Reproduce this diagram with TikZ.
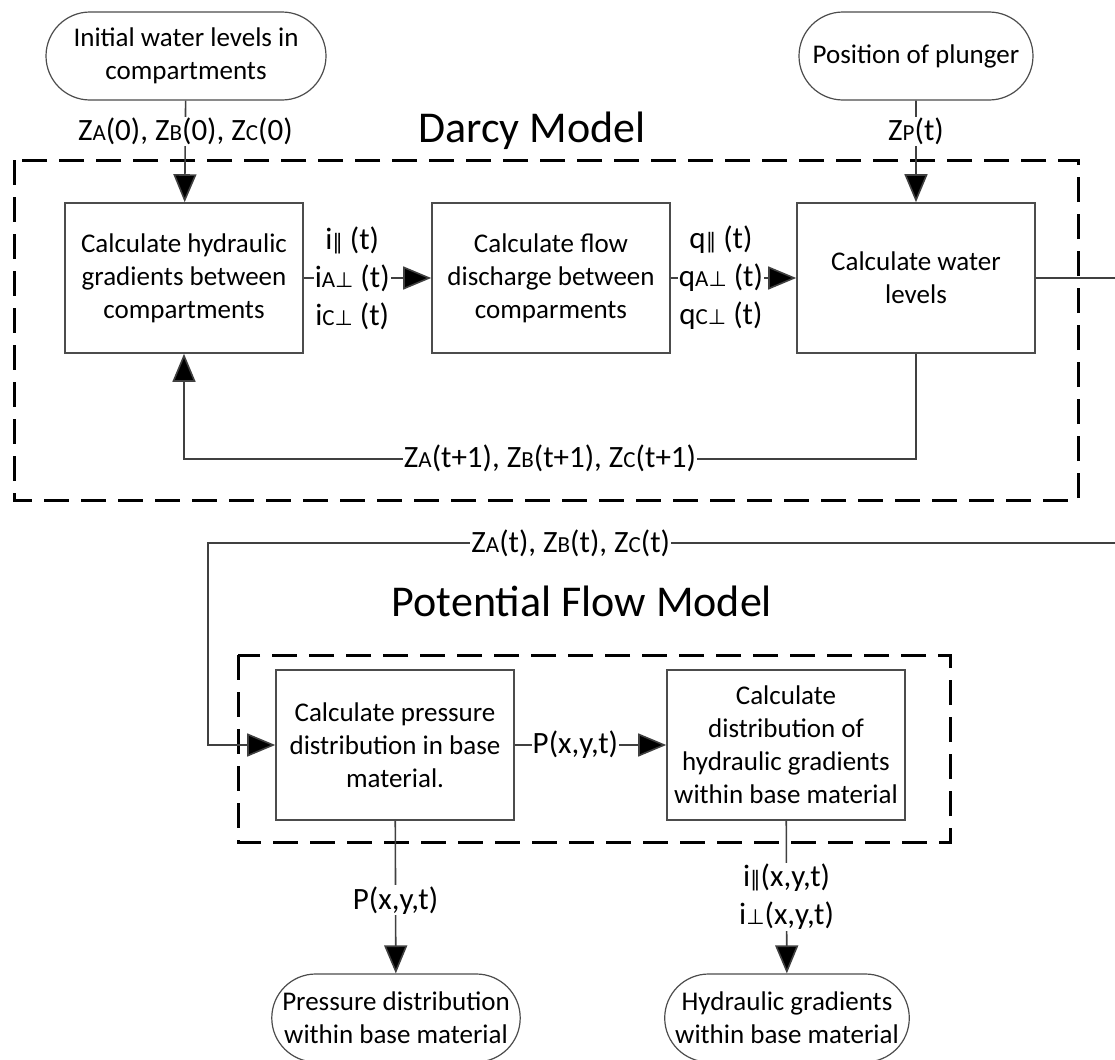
\documentclass[tikz,border=0pt]{standalone}
\usepackage{fontspec}
\setmainfont{Carlito}
\newfontfamily\symf{DejaVu Sans}
\usepackage{tikz}
\usetikzlibrary{
    arrows.meta,
    shapes.misc,
    positioning
}
\newcommand{\lo}[1]{{\fontsize{11.5}{11.5}\selectfont #1}}
\newcommand{\pl}{{\symf\fontsize{10.5}{10.5}\selectfont ∥}}
\newcommand{\pp}{{\symf\fontsize{10.5}{10.5}\selectfont ⊥}}

\begin{document}
\begin{tikzpicture}[x=0.5pt, y=-0.5pt,
    font=\fontsize{13.5}{16.5}\selectfont,
    box/.style={draw=black!70, line width=0.8pt, align=center, minimum width=119pt, minimum height=75pt, inner sep=2pt},
    term/.style={draw=black!70, line width=0.6pt, rounded rectangle, align=center, minimum height=44pt, inner sep=1pt},
    frame/.style={draw=black, line width=1.5pt, dash pattern=on 12.5pt off 6pt},
    conn/.style={draw=black!75, line width=0.8pt, -{Triangle[length=14pt, width=11.5pt, fill=black]}},
    line/.style={draw=black!75, line width=0.8pt},
    lbl/.style={fill=white, inner sep=0.5pt, align=center, font=\fontsize{15.5}{19}\selectfont},
    title/.style={font=\fontsize{22}{24}\selectfont}
]
\useasboundingbox (0,0) rectangle (1115,1060);

% Darcy model
\draw[frame] (14,160) rectangle (1078,500);
\node[title] (darcyT) at (532,131) {Darcy Model};

\node[term, minimum width=142pt] (init) at (186,56) {Initial water levels in\\compartments};
\node[term, minimum width=119pt] (plunger) at (916,56) {Position of plunger};

\node[box] (grad) at (184,278) {Calculate hydraulic\\gradients between\\compartments};
\node[box] (flow) at (551,278) {Calculate flow\\discharge between\\comparments};
\node[box] (level) at (916,278) {Calculate water\\levels};

\coordinate (out) at (1115,278);

\draw[conn] (init) -- node[lbl, pos=0.3] {Z\lo{A}(0), Z\lo{B}(0), Z\lo{C}(0)} (grad);
\draw[conn] (plunger) -- node[lbl, pos=0.3] {Z\lo{P}(t)} (level);
\draw[conn] (grad) -- node[lbl, pos=0.38] {i\pl\ (t)\\i\lo{A}\pp\ (t)\\i\lo{C}\pp\ (t)} (flow);
\draw[conn] (flow) -- node[lbl, pos=0.4] {q\pl\ (t)\\q\lo{A}\pp\ (t)\\q\lo{C}\pp\ (t)} (level);
\draw[line] (level) -- (out);
\draw[conn] (level.south) -- ++(0,105) -| node[lbl, pos=0.25] {Z\lo{A}(t+1), Z\lo{B}(t+1), Z\lo{C}(t+1)} (grad.south);

% potential flow model
\draw[frame] (238,655) rectangle (950,842);
\node[title] (potT) at (582,601) {Potential Flow Model};

\node[box] (press) at (395,745) {Calculate pressure\\distribution in base\\material.};
\node[box] (hgrad) at (786,745) {Calculate\\distribution of\\hydraulic gradients\\within base material};

\node[term, minimum width=119pt] (pout) at (396,1018) {Pressure distribution\\within base material};
\node[term, minimum width=119pt] (hout) at (787,1018) {Hydraulic gradients\\within base material};

\coordinate (in) at (1115,543);
\coordinate (bend) at (208,543);

\draw[conn] (in) -- node[lbl, pos=0.6] {Z\lo{A}(t), Z\lo{B}(t), Z\lo{C}(t)} (bend) |- (press);
\draw[conn] (press) -- node[lbl, pos=0.4] {P(x,y,t)} (hgrad);
\draw[conn] (press) -- node[lbl, pos=0.52] {P(x,y,t)} (pout);
\draw[conn] (hgrad) -- node[lbl, pos=0.5] {i\pl(x,y,t)\\i\pp(x,y,t)} (hout);
\end{tikzpicture}
\end{document}
